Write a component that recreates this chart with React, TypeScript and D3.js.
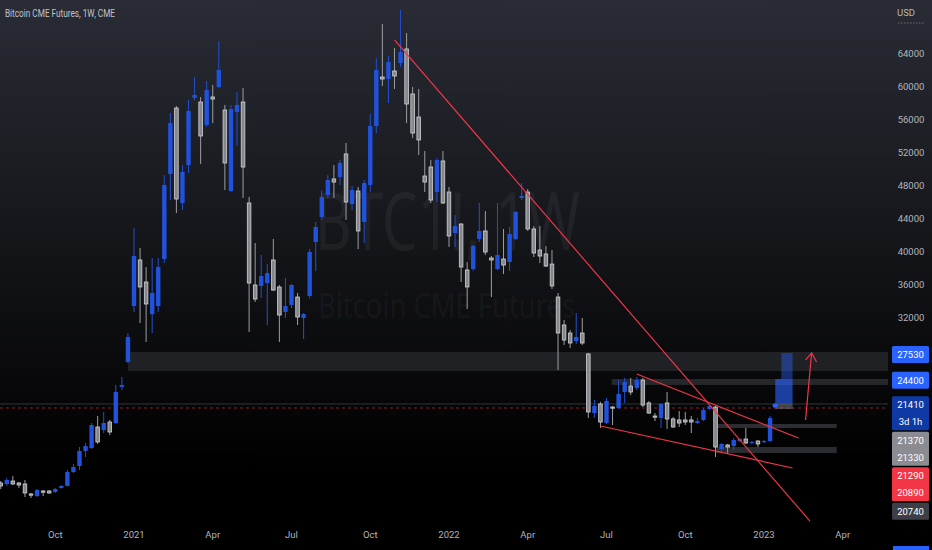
import React from 'react'
import * as d3 from 'd3'

// weekly bars, first bar = week of 2020-08-03
const firstWeek = '2020-08-03'

const opens = [
  11940, 11820, 12180, 11940, 11820, 10610, 10360, 10970, 10970, 10850, 11330, 11580, 13270, 14000, 15820, 16180,
  18730, 18360, 19330, 19210, 23580, 26610, 33390, 38970, 36300, 32420, 33390, 39090, 49390, 57390, 45880, 50480,
  58610, 58120, 55330, 58730, 59940, 57150, 47330, 56910, 58120, 45880, 35940, 35820, 36180, 38970, 35700, 32670,
  33520, 34480, 31940, 34610, 41150, 44180, 46850, 48790, 49030, 51820, 45760, 47330, 43580, 48060, 55210, 61150,
  60910, 61880, 62850, 64550, 59090, 56300, 49150, 50240, 47210, 50970, 47210, 42240, 43330, 37760, 37880, 41520,
  42490, 39210, 37880, 39090, 38730, 41520, 46490, 47210, 42730, 40180, 39700, 38480, 34480, 31090, 30120, 29150,
  30120, 27580, 20420, 21520, 19210, 21150, 21030, 22970, 23700, 23450, 24420, 21640, 20060, 19820, 21640, 19700,
  19580, 19580, 19580, 19210, 19580, 20910, 21150, 16060, 16550, 16420, 17030, 17270, 16790, 17030, 16910, 17030,
]
const highs = [
  12180, 12550, 12790, 12060, 12300, 10730, 11210, 11090, 11090, 11330, 11700, 13520, 14240, 16300, 16790, 19210,
  20060, 20550, 19580, 23820, 24790, 30120, 42850, 40420, 38120, 39210, 39210, 49270, 56790, 57640, 50480, 58360,
  61150, 58730, 60670, 60180, 65520, 57760, 57760, 59330, 59820, 46610, 41030, 39580, 38480, 41520, 35940, 36790,
  36060, 34970, 32540, 40300, 43580, 47450, 49270, 50480, 51090, 53150, 47940, 47820, 48670, 56670, 63450, 67580,
  63700, 64670, 69270, 66480, 59940, 59700, 52180, 51090, 51330, 52180, 47820, 44420, 43450, 38730, 40790, 45880,
  44910, 39450, 45880, 42730, 42970, 44910, 48300, 47570, 43090, 43090, 40670, 40180, 34970, 31700, 30480, 32550,
  31940, 27700, 22000, 21760, 22240, 21270, 24420, 24670, 24670, 24790, 24670, 21880, 20420, 21640, 22970, 19940,
  20670, 20550, 20060, 19820, 21030, 21390, 21270, 16790, 16670, 17390, 17390, 18610, 17030, 17100, 17150, 20060,
]
const lows = [
  11210, 11580, 11700, 11330, 10240, 10120, 10240, 10360, 10610, 10730, 11270, 11520, 13150, 13520, 15090, 16060,
  16670, 18000, 17760, 19090, 23210, 26480, 32670, 31330, 29030, 30120, 32670, 38610, 46240, 44670, 45030, 49520,
  58360, 50610, 55090, 55580, 59820, 47450, 47210, 52790, 46490, 30240, 33880, 34360, 31090, 35210, 29030, 31940,
  33150, 31090, 29390, 34300, 37640, 43820, 46490, 46490, 48060, 43820, 45030, 40300, 41030, 47210, 54360, 60060,
  58000, 59700, 62360, 55580, 53760, 51700, 47210, 45880, 46000, 45760, 40550, 40550, 36300, 33030, 37640, 41150,
  39580, 34480, 37760, 37270, 37640, 41400, 46240, 42490, 39330, 38610, 38120, 35450, 25640, 28670, 28300, 28790,
  28670, 19820, 19820, 18610, 19090, 18970, 20910, 21640, 22610, 23210, 21150, 20300, 19450, 18610, 18490, 18610,
  18730, 18970, 18000, 19090, 19450, 20790, 15090, 15580, 15580, 15940, 16910, 16670, 16670, 16300, 16790, 16910,
]
const closes = [
  11580, 12300, 11820, 11700, 10730, 10480, 11090, 10850, 10730, 11210, 11580, 13270, 13880, 15820, 16420, 18970,
  16910, 19210, 18120, 22970, 23820, 29640, 39450, 35700, 33640, 34970, 38120, 48060, 55580, 46360, 49640, 57030,
  58970, 54000, 59580, 58480, 62000, 50730, 57270, 57760, 50240, 36180, 34240, 37030, 37390, 35330, 32300, 33390,
  35940, 32060, 32420, 39940, 42970, 46610, 48670, 48420, 50730, 46000, 47450, 42490, 48300, 55210, 62000, 60910,
  62970, 61270, 64180, 57880, 54360, 53520, 48420, 46240, 51090, 45880, 41880, 43090, 38120, 35700, 40670, 42490,
  39940, 38970, 39580, 38360, 42120, 44790, 46730, 42730, 39820, 39450, 38240, 35820, 30120, 29270, 28910, 29640,
  28910, 20550, 21270, 19330, 21880, 21030, 22730, 24180, 22970, 24420, 21390, 20420, 19940, 21520, 19700, 18730,
  19210, 19330, 19330, 19450, 20790, 21270, 16300, 16670, 16300, 17150, 17270, 16790, 16910, 16670, 17030, 19820,
]

const priceTicks = [32000, 36000, 40000, 44000, 48000, 52000, 56000, 60000, 64000]
const timeTickDates = ['2020-10-05', '2021-01-04', '2021-04-05', '2021-07-05', '2021-10-04', '2022-01-03',
  '2022-04-04', '2022-07-04', '2022-10-03', '2023-01-02', '2023-04-03']
const timeTickLabels = ['Oct', '2021', 'Apr', 'Jul', 'Oct', '2022', 'Apr', 'Jul', 'Oct', '2023', 'Apr']

// drawings
const zones = [
  { from: '2020-12-28', to: null, top: 27820, bottom: 25515, alpha: 0.21 },
  { from: '2022-07-10', to: null, top: 24550, bottom: 23820, alpha: 0.28 },
  { from: '2022-11-08', to: '2023-03-27', top: 19090, bottom: 18600, alpha: 0.36 },
  { from: '2022-11-08', to: '2023-03-27', top: 16300, bottom: 15580, alpha: 0.36 },
]
const trendLines = [
  { d1: '2021-11-01', p1: 65640, d2: '2023-02-24', p2: 7330 },
  { d1: '2022-08-08', p1: 25150, d2: '2023-02-11', p2: 17390 },
  { d1: '2022-06-27', p1: 18850, d2: '2023-02-04', p2: 13760 },
]
const arrowLine = { d1: '2023-02-19', p1: 19580, d2: '2023-02-26', p2: 27700 }
const positionBoxes = [
  { from: '2023-01-22', to: '2023-02-04', top: 27700, bottom: 24550, fill: 'rgba(41,98,255,0.42)' },
  { from: '2023-01-15', to: '2023-02-04', top: 24550, bottom: 21520, fill: 'rgba(41,98,255,0.62)' },
  { from: '2023-01-15', to: '2023-02-04', top: 21520, bottom: 20900, fill: 'rgba(140,142,150,0.45)' },
]
const levelLine = 21520
const priceLine = 21030

const axisLabels = [
  { value: 27530, lines: ['27530'], color: '#2962ff' },
  { value: 24400, lines: ['24400'], color: '#2962ff' },
  { value: 21410, lines: ['21410', '3d 1h'], color: '#0f3aa6' },
  { value: 21370, lines: ['21370', '21330'], color: '#8a8c92' },
  { value: 21290, lines: ['21290', '20890'], color: '#f23645' },
  { value: 20740, lines: ['20740'], color: '#3c3f48' },
]

const W = 932
const H = 550
const plotRight = 888
const plotBottom = 524
const font = "Roboto, 'Noto Sans', sans-serif"

const utc = (s: string) => new Date(s + 'T00:00:00Z')

export default function App() {
  const x = d3.scaleUtc().domain([utc('2021-01-04'), utc('2023-01-02')]).range([134, 764])
  const y = d3.scaleLinear().domain([32000, 64000]).range([317.5, 53.5])
  const start = utc(firstWeek)
  const bars = opens.map((o, i) => ({
    date: d3.utcWeek.offset(start, i),
    o, h: highs[i], l: lows[i], c: closes[i],
  }))
  const bw = 4.4

  // stack the axis labels so they never overlap
  const lineH = 17
  let prevBottom = -Infinity
  const placed = axisLabels.map((lab) => {
    let top = y(lab.value) - lineH / 2
    if (top < prevBottom + 1.5) top = prevBottom + 1.5
    const hgt = lineH * lab.lines.length
    prevBottom = top + hgt
    return { ...lab, top, hgt }
  })

  const red = '#f0364a'
  const tipX = x(utc(arrowLine.d2))
  const tipY = y(arrowLine.p2)

  return (
    <svg width={W} height={H} style={{ position: 'fixed', left: 0, top: 0, display: 'block' }}>
      <defs>
        <linearGradient id="bg" x1="0" y1="0" x2="0" y2="1">
          <stop offset="0" stopColor="#292c35" />
          <stop offset="0.45" stopColor="#141519" />
          <stop offset="0.85" stopColor="#000000" />
          <stop offset="1" stopColor="#000000" />
        </linearGradient>
        <clipPath id="plot">
          <rect x={0} y={0} width={plotRight} height={plotBottom} />
        </clipPath>
      </defs>
      <rect x={0} y={0} width={W} height={H} fill="url(#bg)" />

      {/* watermark */}
      <text x={315} y={250} fontFamily="'Noto Sans', sans-serif" fontSize={80} fill="rgba(255,255,255,0.05)"
        textLength={265} lengthAdjust="spacingAndGlyphs">BTC1!, 1W</text>
      <text x={318} y={318} fontFamily="'Noto Sans', sans-serif" fontSize={35} fill="rgba(255,255,255,0.05)"
        textLength={257} lengthAdjust="spacingAndGlyphs">Bitcoin CME Futures</text>

      <g clipPath="url(#plot)">
        {zones.map((z, i) => {
          const x1 = x(utc(z.from))
          const x2 = z.to ? x(utc(z.to)) : plotRight
          return <rect key={i} x={x1} y={y(z.top)} width={x2 - x1} height={y(z.bottom) - y(z.top)}
            fill={`rgba(120,123,134,${z.alpha})`} />
        })}

        <line x1={0} x2={plotRight} y1={y(levelLine)} y2={y(levelLine)} stroke="rgba(120,123,134,0.4)" strokeWidth={1} />
        <line x1={0} x2={plotRight} y1={y(priceLine)} y2={y(priceLine)} stroke={red} strokeOpacity={0.55}
          strokeWidth={1} strokeDasharray="3,3" />

        {positionBoxes.map((b, i) => {
          const x1 = x(utc(b.from))
          const x2 = x(utc(b.to))
          return <rect key={i} x={x1} y={y(b.top)} width={x2 - x1} height={y(b.bottom) - y(b.top)} fill={b.fill} />
        })}
        <rect x={x(utc('2023-01-12'))} y={y(21520) - 0.5} width={5} height={4} rx={1.5} fill="#2962ff" />

        {bars.map((b, i) => {
          const cx = x(b.date)
          const up = b.c >= b.o
          const top = y(Math.max(b.o, b.c))
          const bot = y(Math.min(b.o, b.c))
          const hh = Math.max(1.2, bot - top)
          return (
            <g key={i}>
              <line x1={cx} x2={cx} y1={y(b.h)} y2={y(b.l)} stroke={up ? '#2350d2' : '#9c9ea3'} strokeWidth={1} />
              {up ? (
                <rect x={cx - bw / 2} y={top} width={bw} height={hh} fill="#2152dc" />
              ) : (
                <rect x={cx - bw / 2 + 0.4} y={top} width={bw - 0.8} height={hh} fill="#85878c"
                  stroke="#d2d3d6" strokeWidth={0.8} />
              )}
            </g>
          )
        })}

        {trendLines.map((t, i) => (
          <line key={i} x1={x(utc(t.d1))} y1={y(t.p1)} x2={x(utc(t.d2))} y2={y(t.p2)} stroke={red} strokeWidth={1.2} />
        ))}
        <line x1={x(utc(arrowLine.d1))} y1={y(arrowLine.p1)} x2={tipX} y2={tipY} stroke={red} strokeWidth={1.2} />
        <polyline points={`${tipX - 6},${tipY + 7} ${tipX},${tipY} ${tipX + 5},${tipY + 9}`} fill="none"
          stroke={red} strokeWidth={1.2} />
      </g>

      {/* title */}
      <text x={5} y={17} fontFamily={font} fontSize={10} fill="#c0c3cb" textLength={110}
        lengthAdjust="spacingAndGlyphs">Bitcoin CME Futures, 1W, CME</text>

      {/* price axis */}
      <text x={906} y={16} textAnchor="middle" fontFamily={font} fontSize={9.5} fill="#b2b5be">USD</text>
      <line x1={898} x2={925} y1={23} y2={23} stroke="#6a6d75" strokeDasharray="1.5,1.5" />
      {priceTicks.map((p) => (
        <text key={p} x={911} y={y(p) + 3} textAnchor="middle" fontFamily={font} fontSize={9.5} fill="#b2b5be">{p}</text>
      ))}
      {placed.map((lab, i) => (
        <g key={i}>
          <rect x={892} y={lab.top} width={37} height={lab.hgt} rx={1.5} fill={lab.color} />
          {lab.lines.map((t, j) => (
            <text key={j} x={910.5} y={lab.top + j * lineH + 12} textAnchor="middle" fontFamily={font}
              fontSize={9.5} fill="#ffffff">{t}</text>
          ))}
        </g>
      ))}
      <rect x={893} y={546} width={36} height={6} fill="#2962ff" />

      {/* time axis */}
      {timeTickDates.map((d, i) => (
        <text key={d} x={x(utc(d))} y={538} textAnchor="middle" fontFamily={font} fontSize={9.5}
          fill="#b2b5be">{timeTickLabels[i]}</text>
      ))}
    </svg>
  )
}
